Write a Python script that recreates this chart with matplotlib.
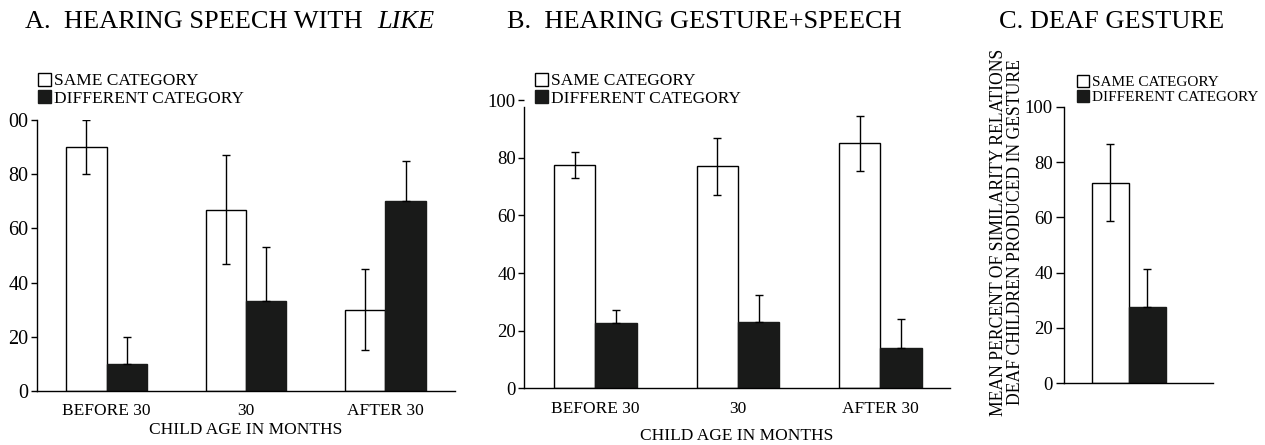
import numpy as np
import matplotlib
matplotlib.use('Agg')
import matplotlib.pyplot as plt

plt.rcParams['font.family'] = ['Liberation Serif', 'DejaVu Serif']

# ---- data ----
ages = ["BEFORE 30", "30", "AFTER 30"]

a_same = [90, 67, 30]
a_same_err = [10, 20, 15]
a_diff = [10, 33, 70]
a_diff_err = [10, 20, 15]

b_same = [77.5, 77, 85]
b_same_err = [4.5, 10, 9.5]
b_diff = [22.5, 23, 14]
b_diff_err = [4.5, 9.5, 10]

c_same = [72.5]
c_same_err = [14]
c_diff = [27.5]
c_diff_err = [14]

yticks = [0, 20, 40, 60, 80, 100]
ytick_labels = ["0", "20", "40", "60", "80", "100"]
# panel A is cropped on the left in the original, so its top label reads "00"
ytick_labels_a = ["0", "20", "40", "60", "80", "00"]
legend_labels = ["SAME CATEGORY", "DIFFERENT CATEGORY"]
BLACK = '#191a19'

W, H = 1265, 445
fig = plt.figure(figsize=(W / 100, H / 100), dpi=100)


def px_axes(x0, x1, y_top, y_bot):
    return fig.add_axes([x0 / W, 1 - y_bot / H, (x1 - x0) / W, (y_bot - y_top) / H])


def draw_panel(ax, same, same_err, diff, diff_err, width=0.29, fs=13.5):
    x = np.arange(len(same))
    ek = dict(ecolor='black', elinewidth=1.0, capsize=3, capthick=1.0)
    b1 = ax.bar(x - width / 2, same, width, yerr=same_err, color='white',
                edgecolor='black', linewidth=1.0, error_kw=ek, zorder=2)
    # lower half of the error bar is hidden inside the black bar
    b2 = ax.bar(x + width / 2, diff, width, yerr=[np.zeros(len(diff)), diff_err],
                color=BLACK, edgecolor=BLACK, linewidth=1.0, error_kw=ek, zorder=2)
    for s in ['top', 'right']:
        ax.spines[s].set_visible(False)
    ax.spines['left'].set_linewidth(1.0)
    ax.spines['bottom'].set_linewidth(1.0)
    ax.set_ylim(0, 100)
    ax.set_yticks(yticks)
    ax.set_yticklabels(ytick_labels)
    ax.tick_params(axis='y', length=4, width=1.0, labelsize=fs, pad=2)
    ax.tick_params(axis='x', length=0, labelsize=12.5, pad=9)
    return b1, b2


leg_kw = dict(loc='upper left', frameon=False, handlelength=0.75, handleheight=0.75,
              handletextpad=0.15, labelspacing=0.05, borderaxespad=0, borderpad=0)

# Panel A
axA = px_axes(37, 455, 120.3, 390.7)
hA = draw_panel(axA, a_same, a_same_err, a_diff, a_diff_err, fs=14.5)
axA.set_yticklabels(ytick_labels_a)
axA.set_xlim(-0.5, 2.5)
axA.set_xticks(range(3))
axA.set_xticklabels(ages)
axA.set_xlabel("CHILD AGE IN MONTHS", fontsize=12.5, labelpad=2)
fig.legend(hA, legend_labels, bbox_to_anchor=(38 / W, 1 - 73 / H), fontsize=12.5, **leg_kw)

# Panel B
axB = px_axes(524.3, 950, 100.1, 388.3)
hB = draw_panel(axB, b_same, b_same_err, b_diff, b_diff_err)
axB.set_xlim(-0.5, 2.49)
axB.set_xticks(range(3))
axB.set_xticklabels(ages)
axB.set_xlabel("CHILD AGE IN MONTHS", fontsize=12.5, labelpad=8)
axB.spines['left'].set_bounds(0, 97.7)
fig.legend(hB, legend_labels, bbox_to_anchor=(535 / W, 1 - 73 / H), fontsize=12.5, **leg_kw)

# Panel C
axC = px_axes(1064, 1213, 106.7, 383.3)
hC = draw_panel(axC, c_same, c_same_err, c_diff, c_diff_err)
axC.set_xlim(-0.51, 0.66)
axC.set_xticks([])
axC.tick_params(axis='y', length=6)
fig.legend(hC, legend_labels, bbox_to_anchor=(1077 / W, 1 - 75 / H), fontsize=11,
           **dict(leg_kw, handlelength=0.8, handleheight=0.8))
fig.text(1007 / W, 1 - 232 / H,
         "MEAN PERCENT OF SIMILARITY RELATIONS\nDEAF CHILDREN PRODUCED IN GESTURE",
         rotation=90, ha='center', va='center', multialignment='center',
         fontsize=12.7, linespacing=1.05)

# titles
ty = 1 - 21.5 / H
fs_t = 19
fig.text(25 / W, ty, "A.  HEARING SPEECH WITH", fontsize=fs_t, ha='left', va='center')
fig.text(377 / W, ty, "LIKE", fontsize=fs_t, style='italic', ha='left', va='center')
fig.text(507 / W, ty, "B.  HEARING GESTURE+SPEECH", fontsize=fs_t, ha='left', va='center')
fig.text(999 / W, ty, "C. DEAF GESTURE", fontsize=fs_t, ha='left', va='center')

fig.savefig("out.png", dpi=100)
